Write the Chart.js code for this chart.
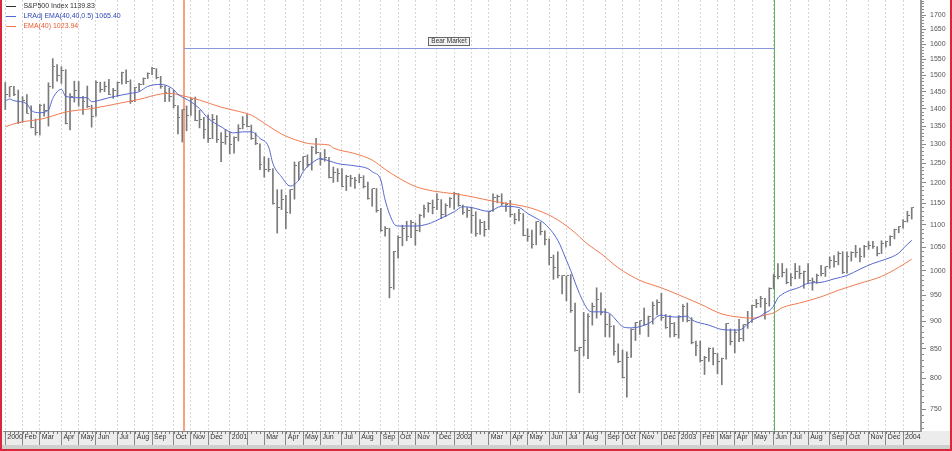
<!DOCTYPE html>
<html><head><meta charset="utf-8">
<script src="https://cdn.jsdelivr.net/npm/chart.js@4.4.1/dist/chart.umd.min.js"></script>
<style>
html,body{margin:0;padding:0;background:#fff;}
#wrap{position:absolute;left:0;top:0;width:948px;height:449px;border-left:2px solid #d8283c;border-right:2px solid #d8283c;border-bottom:2px solid #d8283c;}
canvas{display:block;}
</style></head><body>
<div id="wrap"><canvas id="c" width="948" height="449"></canvas></div>
<script>
// ---- categories: weekly bars starting this Friday ----
const startDate = '2000-01-07';
const monthNames = ['Jan','Feb','Mar','Apr','May','Jun','Jul','Aug','Sep','Oct','Nov','Dec'];
const hiddenMonthLabels = ['2001-02','2002-02'];

// ---- S&P 500 weekly highs / lows / closes ----
const highs = [
1478,1465,1466,1455,1435,1441,1408,1370,1413,1413,1477,1553,1534,1527,1518,1444,1482,1481,1436,1467,1410,1483,1479,1480,1488,1460,1479,1510,1517,1486,1463,1475,1492,1508,1525,1521,1497,1468,1461,1454,1409,1397,1408,1431,1434,1395,1375,1382,1383,1380,1332,1340,
1334,1320,1354,1377,1383,1353,1331,1301,1267,1263,1236,1183,1183,1169,1183,1253,1253,1267,1272,1294,1316,1278,1286,1265,1240,1236,1236,1219,1219,1214,1221,1218,1202,1185,1186,1138,1096,1092,1041,1075,1099,1108,1110,1104,1124,1146,1152,1158,1173,1159,1149,1164,
1177,1174,1146,1140,1141,1130,1112,1108,1131,1173,1170,1173,1151,1157,1126,1136,1126,1091,1088,1107,1106,1086,1068,1033,1040,990,989,992,935,853,917,914,935,965,955,924,913,892,859,848,845,886,898,901,925,910,937,941,954,913,911,898,
911,932,935,907,864,864,837,852,852,842,834,896,886,885,904,894,919,931,942,948,944,965,992,1015,1015,1004,994,1015,1010,999,1015,985,993,1011,1008,1029,1032,1040,1040,1040,1040,1054,1048,1054,1062,1063,1051,1064,1063,1075,1090,1096,
1112,1131,1140];
const lows = [
1397,1434,1438,1357,1360,1387,1345,1325,1325,1378,1350,1460,1482,1475,1356,1339,1419,1407,1383,1403,1347,1378,1448,1450,1441,1430,1436,1473,1474,1415,1420,1452,1471,1490,1502,1489,1460,1420,1421,1402,1328,1306,1337,1380,1365,1345,1316,1305,1315,1305,1254,1300,
1274,1276,1309,1342,1348,1313,1299,1233,1214,1228,1148,1081,1135,1091,1126,1160,1208,1232,1240,1232,1274,1245,1255,1212,1201,1203,1190,1181,1191,1186,1200,1187,1160,1143,1129,1085,1074,945,962,1026,1053,1064,1071,1054,1084,1117,1129,1125,1135,1114,1119,1140,
1136,1143,1124,1117,1081,1074,1078,1074,1089,1131,1151,1145,1131,1118,1102,1109,1075,1063,1048,1055,1077,1055,1012,982,985,953,939,917,846,776,838,833,893,906,912,872,871,839,826,800,769,835,865,876,893,872,895,912,902,887,871,872,
869,900,899,859,838,827,806,828,822,807,789,832,857,843,863,864,887,898,926,927,904,929,963,983,987,973,969,983,984,964,975,960,974,989,988,1005,1007,1012,994,995,1020,1028,1018,1028,1045,1047,1031,1036,1050,1053,1068,1082,
1092,1106,1113];
const closes = [
1441.5,1465.2,1441.4,1360.2,1424.4,1387.1,1346.1,1333.4,1409.2,1395.1,1464.5,1527.5,1498.6,1516.4,1356.6,1434.5,1452.4,1432.6,1421.0,1407.0,1378.0,1477.3,1457.0,1464.5,1441.5,1454.6,1478.9,1510.0,1480.2,1419.9,1462.9,1471.8,1491.7,1506.5,1520.8,1494.5,1465.8,1448.7,1436.5,1409.0,1374.2,1396.9,1379.6,1426.7,1366.0,1367.7,1341.8,1315.2,1369.9,1312.2,1306.0,1320.3,
1298.4,1318.6,1342.5,1354.9,1349.5,1314.8,1301.5,1245.9,1234.2,1233.4,1150.5,1139.8,1160.3,1128.4,1183.5,1243.0,1253.1,1266.6,1245.7,1292.0,1277.9,1260.7,1265.0,1214.4,1225.4,1224.4,1190.6,1215.7,1210.9,1205.8,1214.4,1190.2,1162.0,1184.9,1133.6,1085.8,1092.5,965.8,1040.9,1071.4,1091.7,1073.5,1104.6,1087.2,1120.3,1138.7,1150.3,1139.5,1158.3,1123.1,1144.9,1161.0,
1172.5,1145.6,1127.6,1133.3,1122.2,1080.2,1104.2,1089.8,1131.8,1164.3,1166.2,1148.7,1147.4,1122.7,1111.0,1125.2,1076.3,1073.4,1055.0,1106.6,1083.8,1067.1,1027.5,1007.3,989.1,989.8,989.0,921.4,847.8,852.8,864.2,908.6,928.8,940.9,916.1,893.9,889.8,845.4,827.4,800.6,835.3,884.4,897.7,901.0,894.7,909.8,930.6,936.3,906.6,889.5,895.8,875.4,
908.6,927.6,901.8,861.4,855.7,829.7,834.9,851.2,841.2,828.9,833.3,895.8,863.5,878.9,868.3,893.6,898.8,930.1,933.4,944.3,933.2,963.6,987.8,988.6,995.7,976.2,985.7,998.1,993.3,998.7,980.2,977.6,990.7,993.1,1008.0,1021.4,1018.6,1036.3,996.9,1029.9,1038.7,1039.3,1028.9,1050.7,1053.2,1050.4,1035.3,1058.2,1061.5,1074.1,1088.7,1095.9,
1108.5,1121.9,1139.8];

// ---- EMA(40) at these bar positions ----
const emaIdx  = [0,3,8,10,14,20,27,31,36,38,41,45,50,54,57,61,64,68,71,75,76,81,85,88,91,95,99,104,108,113,118,122,127,131,135,138,142,147,152,156,161,166,170,173,176,178,180,184,189,193,198,203,207,210];
const emaVals = [1348,1360,1369,1375,1390,1400,1417,1427,1443,1445,1438,1425,1404,1392,1381,1350,1328,1309,1301,1298,1290,1275,1258,1234,1213,1191,1180,1173,1166,1155,1147,1138,1117,1090,1056,1036,1006,980,965,951,933,914,908,906,912,916,926,935,947,960,974,988,1007,1024];

// ---- LRAdj EMA(40,40,0.5) ----
const lrIdx  = [0,1,2,5,6,8,10,11,13,14,17,19,20,22,24,27,29,31,33,36,38,39,40,43,45,47,50,53,55,57,59,61,62,64,66,68,69,71,73,75,77,81,84,85,87,88,90,91,95,98,101,104,106,108,112,115,119,121,123,125,128,130,131,133,135,136,138,140,142,143,145,149,152,153,156,158,159,163,166,168,170,172,173,175,176,177,178,179,180,181,184,186,189,192,195,198,201,204,207,208,210];
const lrVals = [1422,1428,1423,1414,1395,1388,1396,1430,1457,1436,1432,1432,1420,1425,1432,1440,1445,1450,1466,1472,1465,1456,1442,1420,1400,1372,1348,1331,1334,1334,1316,1293,1249,1215,1192,1207,1228,1250,1262,1256,1249,1243,1236,1228,1207,1158,1103,1097,1097,1102,1115,1130,1142,1140,1131,1143,1140,1126,1115,1102,1065,1022,1000,954,922,918,918,915,898,890,888,896,912,910,908,910,903,893,885,884,884,895,902,910,916,920,929,945,952,957,966,974,976,983,990,1003,1015,1024,1037,1047,1065];

// ---- annotations / axis values ----
const bearStartIdx = 41.4, bearEndIdx = 178, bearLevel = 1587, bearLabel = 'Bear Market', bearLabelIdx = 102.8;
const yLabelValues = [750,800,850,900,950,1000,1050,1100,1150,1200,1250,1300,1350,1400,1450,1500,1550,1600,1650,1700];
const yMinorStep = 10;
const legendTexts = ['S&P500 Index 1139.83','LRAdj EMA(40,40,0.5) 1065.40','EMA(40) 1023.94'];

// ---- derived categories ----
const N = highs.length;
const d0 = new Date(startDate + 'T00:00:00Z');
const dates = [];
for (let i = 0; i < N; i++) dates.push(new Date(d0.getTime() + i * 7 * 864e5));
const monthStarts = [], monthTickLabels = [];
dates.forEach((d, i) => {
  const m = d.getUTCMonth(), y = d.getUTCFullYear();
  if (i === 0 || m !== dates[i-1].getUTCMonth()) {
    monthStarts.push(i);
    const key = y + '-' + String(m+1).padStart(2,'0');
    monthTickLabels.push(hiddenMonthLabels.includes(key) ? '' : (m === 0 ? String(y) : monthNames[m]));
  }
});
const yAllTicks = [];
for (let v = 720; v <= 1750; v += yMinorStep) yAllTicks.push(v);

const Y_MIN = 716.8, Y_MAX = 1754, X_MIN = -0.53, X_MAX = 212.15;
const FONT = '"Liberation Sans", Arial, sans-serif';

const C_BAR = '#7a7a7a', C_LR = '#5468d0', C_EMA = '#f27a50';
const closeTick = document.createElement('canvas');
closeTick.width = 5; closeTick.height = 1;
{ const c = closeTick.getContext('2d'); c.fillStyle = C_BAR; c.fillRect(3,0,2,1); }

const stripPlugin = {
  id: 'strip',
  beforeDraw(chart) {
    const {ctx, chartArea} = chart;
    ctx.save();
    ctx.fillStyle = '#ececec';
    ctx.fillRect(0, chartArea.bottom, chart.width, chart.height - chartArea.bottom);
    ctx.fillStyle = '#cfcfcf';
    ctx.fillRect(0, chart.height - 4, chart.width, 4);
    ctx.restore();
  },
  beforeDatasetsDraw(chart) {
    const {ctx, chartArea, scales} = chart;
    ctx.save();
    const xs = Math.round(scales.x.getPixelForValue(bearStartIdx));
    const xe = Math.round(scales.x.getPixelForValue(bearEndIdx)) + 0.5;
    const yb = Math.round(scales.y.getPixelForValue(bearLevel)) + 0.5;
    ctx.lineWidth = 1.5;
    ctx.strokeStyle = '#f3845a';
    ctx.beginPath(); ctx.moveTo(xs, chartArea.top); ctx.lineTo(xs, chartArea.bottom); ctx.stroke();
    ctx.lineWidth = 1;
    ctx.strokeStyle = '#5cb05c';
    ctx.beginPath(); ctx.moveTo(xe, chartArea.top); ctx.lineTo(xe, chartArea.bottom); ctx.stroke();
    ctx.strokeStyle = '#8a96dc';
    ctx.beginPath(); ctx.moveTo(xs, yb); ctx.lineTo(xe, yb); ctx.stroke();
    ctx.restore();
  },
  afterDraw(chart) {
    const {ctx, chartArea, scales} = chart;
    ctx.save();
    ctx.strokeStyle = '#777'; ctx.lineWidth = 1;
    ctx.beginPath();
    for (let i = 0; i < N; i++) {
      const x = Math.round(scales.x.getPixelForValue(i)) + 0.5;
      ctx.moveTo(x, chartArea.bottom); ctx.lineTo(x, chartArea.bottom + 3);
    }
    ctx.stroke();
    const xc = scales.x.getPixelForValue(bearLabelIdx);
    const yl = scales.y.getPixelForValue(bearLevel) - 7;
    ctx.font = '6.5px ' + FONT;
    const w = ctx.measureText(bearLabel).width + 6;
    ctx.fillStyle = '#f2f2f2';
    ctx.fillRect(Math.round(xc - w/2) + 0.5, Math.round(yl - 4) + 0.5, Math.round(w), 8);
    ctx.strokeStyle = '#666';
    ctx.strokeRect(Math.round(xc - w/2) + 0.5, Math.round(yl - 4) + 0.5, Math.round(w), 8);
    ctx.fillStyle = '#333'; ctx.textAlign = 'center'; ctx.textBaseline = 'middle';
    ctx.fillText(bearLabel, xc, yl + 0.5);
    ctx.restore();
  }
};

new Chart(document.getElementById('c'), {
  type: 'line',
  data: {
    datasets: [
      { type: 'bar', label: 'S&P500 Index', data: highs.map((h, i) => ({x: i, y: [lows[i], h]})),
        backgroundColor: C_BAR, borderWidth: 0, barThickness: 1, order: 5 },
      { type: 'line', label: 'close', data: closes.map((c, i) => ({x: i, y: c})), showLine: false,
        pointStyle: closeTick, pointRadius: 3, pointHoverRadius: 3, order: 4 },
      { type: 'line', label: 'EMA(40)', data: emaIdx.map((x, k) => ({x, y: emaVals[k]})),
        borderColor: C_EMA, borderWidth: 1, pointRadius: 0, cubicInterpolationMode: 'monotone', order: 2 },
      { type: 'line', label: 'LRAdj', data: lrIdx.map((x, k) => ({x, y: lrVals[k]})),
        borderColor: C_LR, borderWidth: 1, pointRadius: 0, cubicInterpolationMode: 'monotone', order: 1 }
    ]
  },
  options: {
    responsive: false, animation: false, devicePixelRatio: 1,
    events: [],
    layout: { autoPadding: false, padding: { left: 1, right: 0, top: 0, bottom: 0 } },
    plugins: {
      tooltip: { enabled: false },
      legend: {
        position: 'chartArea', align: 'start',
        labels: {
          usePointStyle: true, pointStyleWidth: 10, boxHeight: 7, padding: 3,
          font: { size: 7, family: FONT },
          generateLabels: () => [
            { text: '  ' + legendTexts[0], strokeStyle: '#333', fillStyle: '#333', fontColor: '#333', lineWidth: 1, pointStyle: 'line', hidden: false },
            { text: '  ' + legendTexts[1], strokeStyle: C_LR, fillStyle: C_LR, fontColor: '#3048b8', lineWidth: 1, pointStyle: 'line', hidden: false },
            { text: '  ' + legendTexts[2], strokeStyle: C_EMA, fillStyle: C_EMA, fontColor: '#e85a30', lineWidth: 1, pointStyle: 'line', hidden: false }
          ]
        }
      }
    },
    scales: {
      x: {
        type: 'linear', min: X_MIN, max: X_MAX, bounds: 'data', offset: false,
        afterBuildTicks: s => { s.ticks = monthStarts.map(v => ({value: v})); },
        afterFit: s => { s.height = 18; s.paddingLeft = 0; s.paddingRight = 0; s.paddingTop = 0; s.paddingBottom = 0; },
        ticks: { autoSkip: false, maxRotation: 0, align: 'start', labelOffset: 2, padding: -12,
          color: '#333', font: { size: 7, family: FONT },
          callback: (v, i) => monthTickLabels[i] },
        grid: { color: '#d6d6d6', lineWidth: 1, tickLength: 14, tickColor: '#888', tickBorderDash: [], offset: false },
        border: { display: true, color: '#888', dash: [2, 2] }
      },
      y: {
        type: 'logarithmic', position: 'right', min: Y_MIN, max: Y_MAX, bounds: 'data',
        afterBuildTicks: s => { s.ticks = yAllTicks.map(v => ({value: v})); },
        afterFit: s => { s.width = 29; s.paddingTop = 0; s.paddingBottom = 0; s.paddingLeft = 0; s.paddingRight = 0; },
        ticks: { autoSkip: false, padding: 4, color: '#555', font: { size: 7, family: FONT },
          callback: v => yLabelValues.includes(v) ? String(v) : '' },
        grid: { drawOnChartArea: false, tickLength: 5, tickColor: '#888',
          tickBorderDash: ctx => (ctx.tick && yLabelValues.includes(ctx.tick.value)) ? [] : [2, 20] },
        border: { display: true, color: '#999', width: 2 }
      }
    }
  },
  plugins: [stripPlugin]
});
</script>
</body></html>
